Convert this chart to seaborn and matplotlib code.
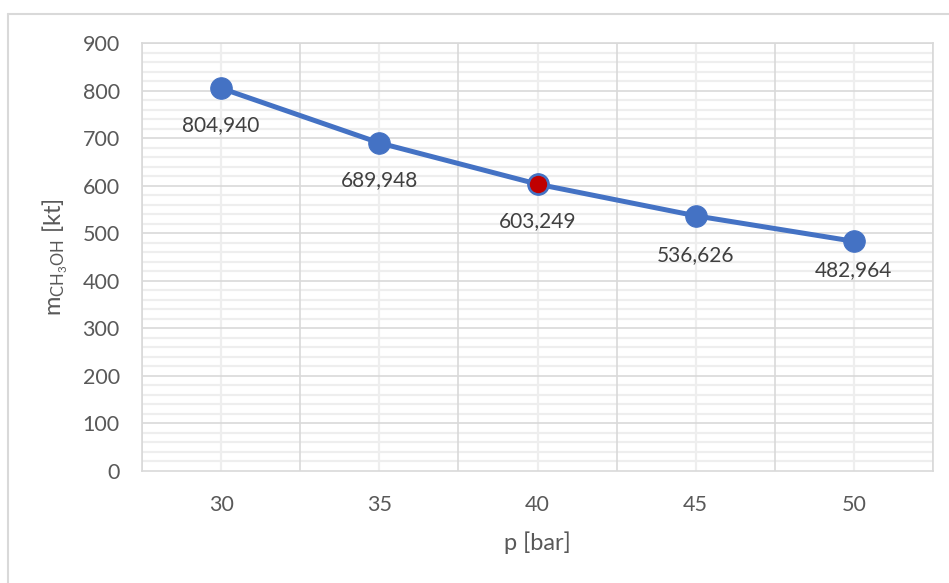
import matplotlib
matplotlib.use("Agg")
import matplotlib.pyplot as plt
from matplotlib.lines import Line2D
from matplotlib.ticker import MultipleLocator, FixedLocator
import seaborn as sns
import pandas as pd

# Methanol output versus pressure
pressure = [30, 35, 40, 45, 50]
mass_kt = [804.940, 689.948, 603.249, 536.626, 482.964]
value_labels = ["804,940", "689,948", "603,249", "536,626", "482,964"]
highlight = 40

sns.set_theme(style="white")
plt.rcParams["font.family"] = ["Lato", "DejaVu Sans"]
plt.rcParams["mathtext.fontset"] = "custom"
plt.rcParams["mathtext.rm"] = "Lato"

blue = "#4472C4"
red = "#C00000"
text_col = "#595959"
grid_major = "#D9D9D9"
grid_minor = "#EEEEEE"

df = pd.DataFrame({"idx": range(len(pressure)), "p": pressure, "m": mass_kt})

fig = plt.figure(figsize=(9.49, 5.83), dpi=100)
ax = fig.add_axes([142 / 949, 1 - 471 / 583, (933 - 142) / 949, (471 - 43) / 583])

sns.lineplot(data=df, x="idx", y="m", ax=ax, color=blue, linewidth=3.6,
             marker="o", markersize=15.5, markeredgecolor=blue,
             markerfacecolor=blue, zorder=5)

# highlighted point
hi = df[df["p"] == highlight]
ax.plot(hi["idx"], hi["m"], "o", color=red, markersize=14,
        markeredgecolor=blue, markeredgewidth=1.5, zorder=6)

offsets = [-37, -37, -37, -39, -29]
for i, (v, lab, dy) in enumerate(zip(mass_kt, value_labels, offsets)):
    ax.annotate(lab, (i, v), xytext=(0, dy), textcoords="offset pixels",
                ha="center", va="center", fontsize=15, color="#404040", zorder=7)

ax.set_xlim(-0.5, len(pressure) - 0.5)
ax.set_ylim(0, 900)
ax.yaxis.set_major_locator(MultipleLocator(100))
ax.yaxis.set_minor_locator(MultipleLocator(20))
ax.xaxis.set_major_locator(FixedLocator(range(len(pressure))))
ax.xaxis.set_minor_locator(FixedLocator([i + 0.5 for i in range(-1, len(pressure))]))
ax.set_xticklabels([str(p) for p in pressure])

# gridlines: minor horizontals, category centres light; boundaries and hundreds darker
ax.grid(False)
for y in range(0, 901, 20):
    if y % 100:
        ax.axhline(y, color=grid_minor, linewidth=1.6, zorder=0)
for i in range(len(pressure)):
    ax.axvline(i, color=grid_minor, linewidth=1.6, zorder=0)
for y in range(100, 901, 100):
    ax.axhline(y, color=grid_major, linewidth=1.2, zorder=1)
for b in [i + 0.5 for i in range(-1, len(pressure))]:
    ax.axvline(b, color=grid_major, linewidth=1.2, zorder=1)

for s in ax.spines.values():
    s.set_visible(True)
    s.set_color(grid_major)
    s.set_linewidth(1.2)

ax.tick_params(axis="both", which="both", length=0, labelsize=15.5, labelcolor=text_col)
ax.tick_params(axis="x", pad=17)
ax.tick_params(axis="y", pad=16)

ax.set_xlabel("p [bar]", fontsize=17, color=text_col, labelpad=12)
ax.set_ylabel(r"$\mathregular{m_{CH_3OH}}$ [kt]", fontsize=17, color=text_col, labelpad=9)

# chart frame
fig.add_artist(Line2D([8 / 949, 1], [1 - 14 / 583] * 2, transform=fig.transFigure,
                      color=grid_major, linewidth=1.5))
fig.add_artist(Line2D([8 / 949] * 2, [0, 1 - 14 / 583], transform=fig.transFigure,
                      color=grid_major, linewidth=1.5))

fig.savefig("out.png", dpi=100)
